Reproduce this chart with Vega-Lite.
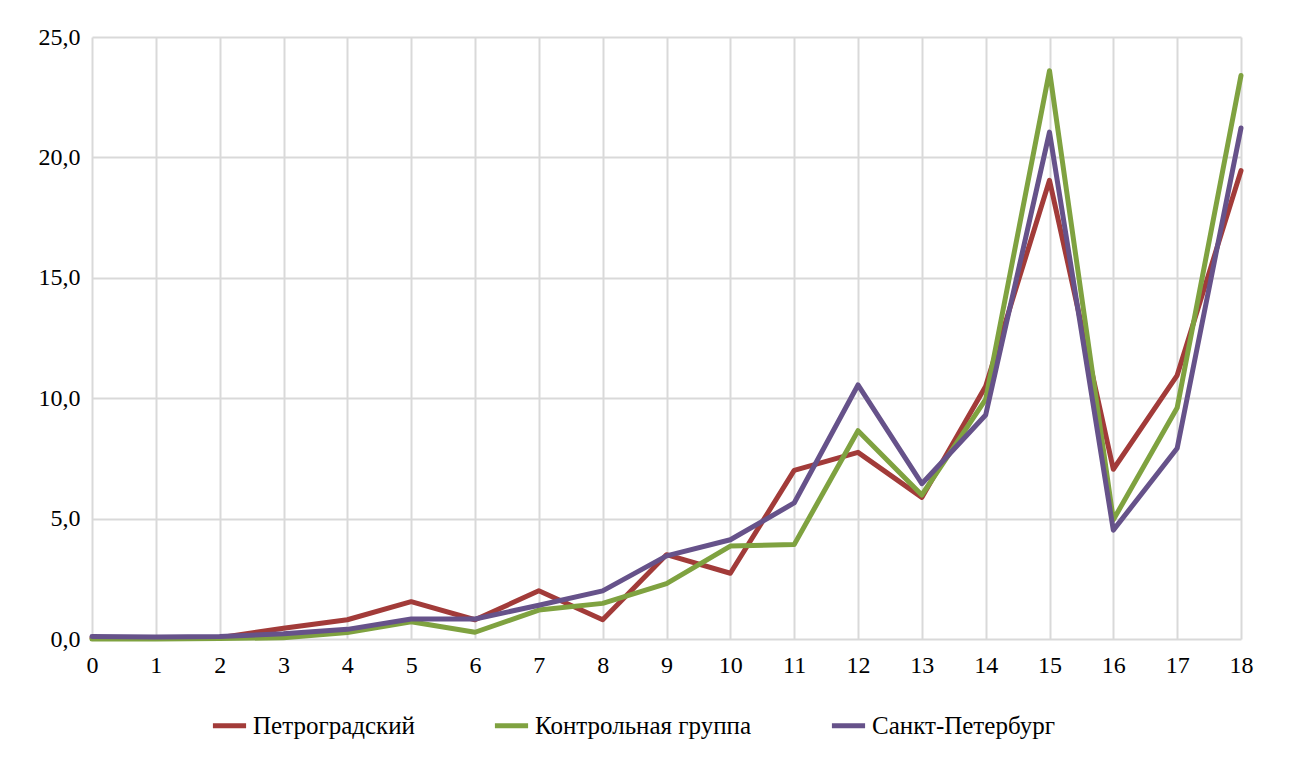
{
  "$schema": "https://vega.github.io/schema/vega-lite/v6.json",
  "width": 1149,
  "height": 602,
  "autosize": {"type": "none"},
  "padding": {"left": 92, "top": 37, "right": 50, "bottom": 119},
  "background": "white",
  "config": {
    "view": {"stroke": null},
    "font": "Liberation Serif, Times New Roman, serif",
    "axis": {"labelFont": "Liberation Serif, Times New Roman, serif"},
    "legend": {"labelFont": "Liberation Serif, Times New Roman, serif"}
  },
  "data": {
    "values": [
      {"x": 0, "s": "Петроградский", "v": 0.05},
      {"x": 1, "s": "Петроградский", "v": 0.05},
      {"x": 2, "s": "Петроградский", "v": 0.05},
      {"x": 3, "s": "Петроградский", "v": 0.45},
      {"x": 4, "s": "Петроградский", "v": 0.8},
      {"x": 5, "s": "Петроградский", "v": 1.55},
      {"x": 6, "s": "Петроградский", "v": 0.8},
      {"x": 7, "s": "Петроградский", "v": 2.0},
      {"x": 8, "s": "Петроградский", "v": 0.8},
      {"x": 9, "s": "Петроградский", "v": 3.5},
      {"x": 10, "s": "Петроградский", "v": 2.73},
      {"x": 11, "s": "Петроградский", "v": 7.0},
      {"x": 12, "s": "Петроградский", "v": 7.75},
      {"x": 13, "s": "Петроградский", "v": 5.88},
      {"x": 14, "s": "Петроградский", "v": 10.5},
      {"x": 15, "s": "Петроградский", "v": 19.05},
      {"x": 16, "s": "Петроградский", "v": 7.05},
      {"x": 17, "s": "Петроградский", "v": 10.95},
      {"x": 18, "s": "Петроградский", "v": 19.45},
      {"x": 0, "s": "Контрольная группа", "v": 0.0},
      {"x": 1, "s": "Контрольная группа", "v": 0.0},
      {"x": 2, "s": "Контрольная группа", "v": 0.02},
      {"x": 3, "s": "Контрольная группа", "v": 0.05},
      {"x": 4, "s": "Контрольная группа", "v": 0.27},
      {"x": 5, "s": "Контрольная группа", "v": 0.72},
      {"x": 6, "s": "Контрольная группа", "v": 0.28},
      {"x": 7, "s": "Контрольная группа", "v": 1.2},
      {"x": 8, "s": "Контрольная группа", "v": 1.48},
      {"x": 9, "s": "Контрольная группа", "v": 2.3},
      {"x": 10, "s": "Контрольная группа", "v": 3.86},
      {"x": 11, "s": "Контрольная группа", "v": 3.92},
      {"x": 12, "s": "Контрольная группа", "v": 8.65},
      {"x": 13, "s": "Контрольная группа", "v": 5.98},
      {"x": 14, "s": "Контрольная группа", "v": 9.95},
      {"x": 15, "s": "Контрольная группа", "v": 23.6},
      {"x": 16, "s": "Контрольная группа", "v": 4.95},
      {"x": 17, "s": "Контрольная группа", "v": 9.6},
      {"x": 18, "s": "Контрольная группа", "v": 23.4},
      {"x": 0, "s": "Санкт-Петербург", "v": 0.1},
      {"x": 1, "s": "Санкт-Петербург", "v": 0.08},
      {"x": 2, "s": "Санкт-Петербург", "v": 0.1},
      {"x": 3, "s": "Санкт-Петербург", "v": 0.22},
      {"x": 4, "s": "Санкт-Петербург", "v": 0.4},
      {"x": 5, "s": "Санкт-Петербург", "v": 0.83},
      {"x": 6, "s": "Санкт-Петербург", "v": 0.83},
      {"x": 7, "s": "Санкт-Петербург", "v": 1.4},
      {"x": 8, "s": "Санкт-Петербург", "v": 2.0},
      {"x": 9, "s": "Санкт-Петербург", "v": 3.45},
      {"x": 10, "s": "Санкт-Петербург", "v": 4.12},
      {"x": 11, "s": "Санкт-Петербург", "v": 5.65},
      {"x": 12, "s": "Санкт-Петербург", "v": 10.55},
      {"x": 13, "s": "Санкт-Петербург", "v": 6.45},
      {"x": 14, "s": "Санкт-Петербург", "v": 9.3},
      {"x": 15, "s": "Санкт-Петербург", "v": 21.05},
      {"x": 16, "s": "Санкт-Петербург", "v": 4.52},
      {"x": 17, "s": "Санкт-Петербург", "v": 7.92},
      {"x": 18, "s": "Санкт-Петербург", "v": 21.22}
    ]
  },
  "mark": {"type": "line", "strokeWidth": 5, "strokeJoin": "round", "strokeCap": "round"},
  "encoding": {
    "x": {
      "field": "x",
      "type": "quantitative",
      "scale": {"domain": [0, 18], "nice": false, "zero": false},
      "axis": {
        "title": null,
        "values": [0,1,2,3,4,5,6,7,8,9,10,11,12,13,14,15,16,17,18],
        "format": "d",
        "grid": true,
        "gridColor": "#d9d9d9",
        "gridWidth": 2,
        "domain": false,
        "ticks": false,
        "labelFontSize": 24,
        "labelColor": "#000000",
        "labelPadding": 14,
        "labelFlush": false
      }
    },
    "y": {
      "field": "v",
      "type": "quantitative",
      "scale": {"domain": [0, 25], "nice": false},
      "axis": {
        "title": null,
        "values": [0, 5, 10, 15, 20, 25],
        "labelExpr": "replace(format(datum.value, '.1f'), '.', ',')",
        "grid": true,
        "gridColor": "#d9d9d9",
        "gridWidth": 2,
        "domain": false,
        "ticks": false,
        "labelFontSize": 24,
        "labelColor": "#000000",
        "labelPadding": 12,
        "labelFlush": false
      }
    },
    "color": {
      "field": "s",
      "type": "nominal",
      "sort": ["Петроградский", "Контрольная группа", "Санкт-Петербург"],
      "scale": {
        "domain": ["Петроградский", "Контрольная группа", "Санкт-Петербург"],
        "range": ["#a23b39", "#7fa240", "#66528a"]
      },
      "legend": {
        "title": null,
        "orient": "none",
        "direction": "horizontal",
        "legendX": 118,
        "legendY": 669,
        "padding": 0,
        "symbolType": "stroke",
        "symbolStrokeWidth": 5,
        "symbolSize": 1100,
        "labelFontSize": 25,
        "labelLimit": 500,
        "labelColor": "#000000",
        "labelOffset": 4,
        "columnPadding": 69
      }
    }
  }
}
